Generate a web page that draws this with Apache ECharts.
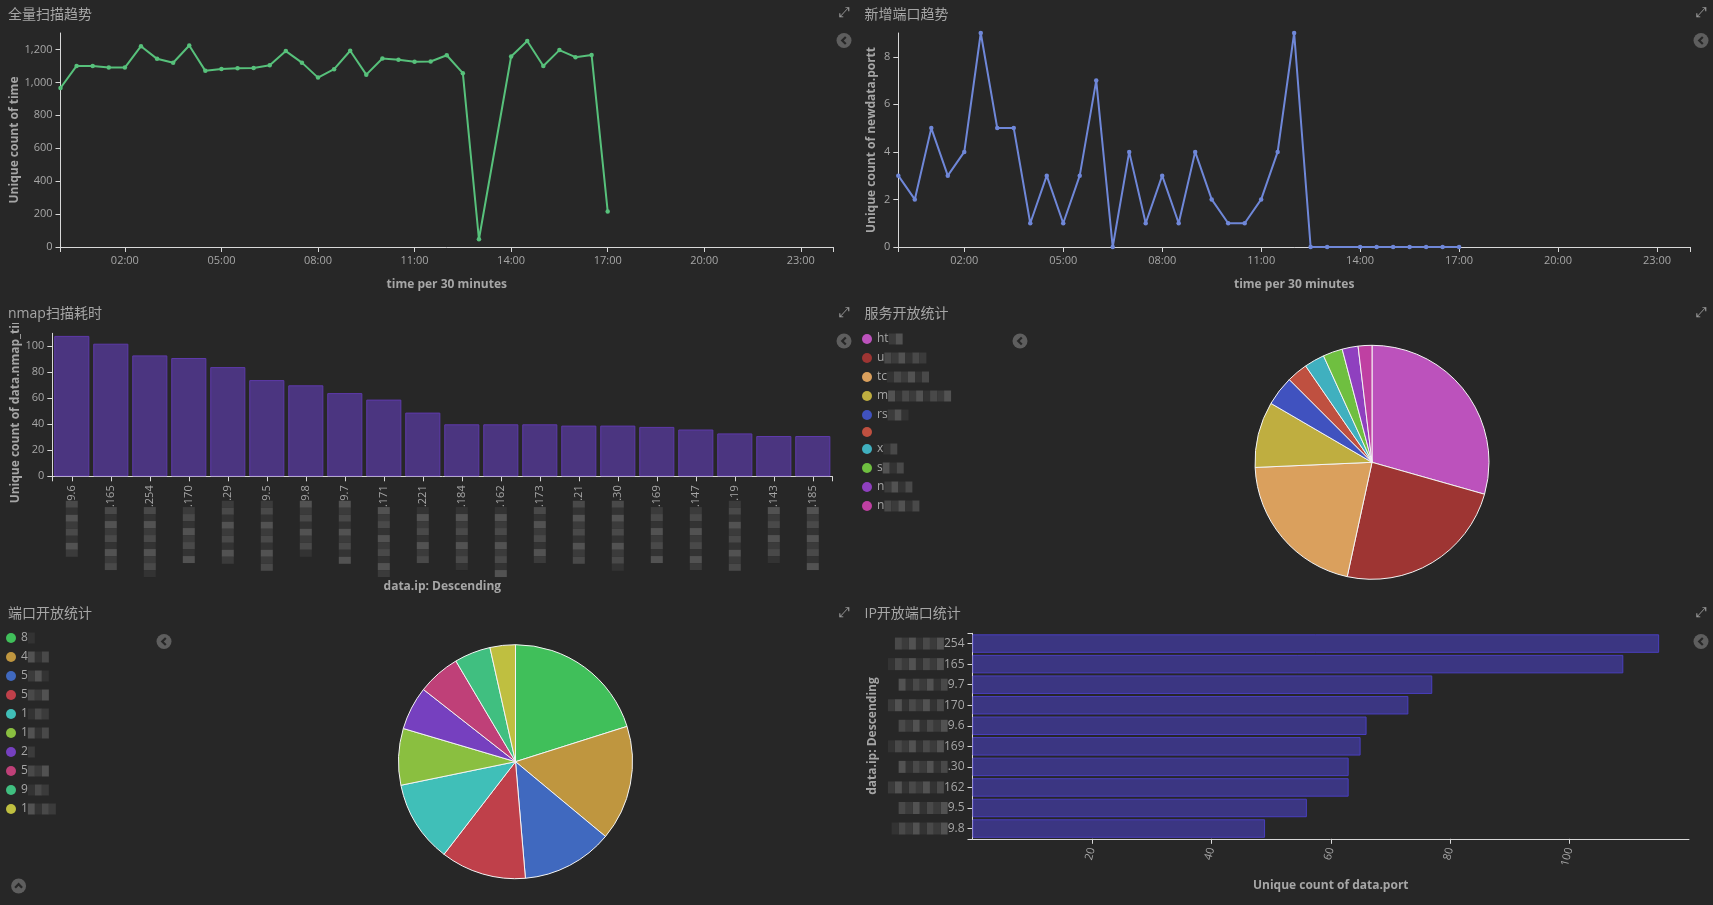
<!DOCTYPE html>
<html><head><meta charset="utf-8">
<script src="https://cdn.jsdelivr.net/npm/echarts@6/dist/echarts.min.js"></script>
<style>html,body{margin:0;padding:0;background:#272727;overflow:hidden}#c{width:1713px;height:905px;}</style>
</head><body><div id="c"></div>
<script>
// ---------- data ----------
const trendTimes = ['00:00','00:30','01:00','01:30','02:00','02:30','03:00','03:30','04:00','04:30','05:00','05:30','06:00','06:30','07:00','07:30','08:00','08:30','09:00','09:30','10:00','10:30','11:00','11:30','12:00','12:30','13:00','14:00','14:30','15:00','15:30','16:00','16:30','17:00'];
const scanCounts = [966,1100,1100,1090,1090,1220,1143,1119,1224,1070,1082,1086,1088,1104,1190,1120,1029,1080,1192,1047,1145,1137,1125,1127,1165,1056,47,1157,1251,1100,1196,1153,1167,216];
const newPortCounts = [3,2,5,3,4,9,5,5,1,3,1,3,7,0,4,1,3,1,4,2,1,1,2,4,9,0,0,0,0,0,0,0,0,0];
const hourTickLabels = ['02:00','05:00','08:00','11:00','14:00','17:00','20:00','23:00'];

const nmapIps = ['9.6','.165','.254','.170','.29','9.5','9.8','9.7','.171','.221','.184','.162','.173','.21','.30','.169','.147','.19','.143','.185'];
const nmapTimes = [108,102,93,91,84,74,70,64,59,49,40,40,40,39,39,38,36,33,31,31];

const serviceLegend = ['ht','u','tc','m','rs','','x','s','n','n'];
const serviceCounts = [294,240,209,91,41,29,28,27,22,19];

const portLegend = ['8','4','5','5','1','1','2','5','9','1'];
const portCounts = [201,159,126,118,113,78,60,59,50,35];

const ipPortIps = ['254','165','9.7','170','9.6','169','.30','162','9.5','9.8'];
const ipPortCounts = [115,109,77,73,66,65,63,63,56,49];

// ---------- styles ----------
const serviceColors = ['#bc52bc','#9e3533','#daa05d','#bfae40','#4052bf','#bf5040','#40b0bf','#6fbf40','#8f40bf','#bf40a2'];
const portColors = ['#40bf5a','#bf963f','#4069bf','#bf404a','#40bfb8','#8abf40','#7640bf','#bf4078','#40bf80','#bfbf40'];
const serviceMosaicLen = [2,6,6,9,3,0,2,3,4,5];
const portMosaicLen = [1,3,3,3,3,3,1,3,3,4];

const BG = '#272727';
const TXT = '#a6a6a6';
const AXIS = '#d8d8d8';
const FONT = '"Open Sans", "Noto Sans CJK SC", sans-serif';

const toHour = t => { const [h, m] = t.split(':').map(Number); return h + m / 60; };
const pad = n => (n < 10 ? '0' : '') + n;
const blockKeys = ['a','b','c','d'];
const mosaic = (n, seed) => { let s = ''; for (let i = 0; i < n; i++) s += '{' + blockKeys[(i * 3 + seed) % 4] + '|\u00a0}'; return s; };
const mosaicRich = (w, h) => ({
  a: {backgroundColor: '#3b3b3b', width: w, height: h, lineHeight: h},
  b: {backgroundColor: '#494949', width: w, height: h, lineHeight: h},
  c: {backgroundColor: '#333333', width: w, height: h, lineHeight: h},
  d: {backgroundColor: '#525252', width: w, height: h, lineHeight: h}
});

const chart = echarts.init(document.getElementById('c'), null, {renderer: 'canvas'});

const axisCommon = {
  axisLine: {show: true, lineStyle: {color: AXIS, width: 1}},
  axisTick: {show: true, length: 5, lineStyle: {color: AXIS}},
  splitLine: {show: false},
  axisLabel: {color: TXT, fontSize: 11, fontFamily: FONT},
  nameTextStyle: {color: TXT, fontSize: 12, fontWeight: 'bold', fontFamily: FONT}
};
const ax = o => echarts.util.merge(echarts.util.clone(axisCommon), o, true);

const hourLabelVals = hourTickLabels.map(toHour);
const hourTickVals = [0].concat(hourLabelVals, [24]);
const timeX = gi => ax({
  type: 'value', gridIndex: gi, min: 0, max: 24,
  name: 'time per 30 minutes', nameLocation: 'middle', nameGap: 32,
  axisLabel: {customValues: hourLabelVals, formatter: v => pad(Math.round(v)) + ':00', margin: 8},
  axisTick: {customValues: hourTickVals}
});

const titles = [
  {text: '全量扫描趋势', left: 3, top: 3},
  {text: '新增端口趋势', left: 859.5, top: 3},
  {text: 'nmap扫描耗时', left: 3, top: 302.5},
  {text: '服务开放统计', left: 859.5, top: 302.5},
  {text: '端口开放统计', left: 3, top: 602},
  {text: 'IP开放端口统计', left: 859.5, top: 602}
].map(t => Object.assign(t, {z: 10, textStyle: {color: TXT, fontSize: 14, fontWeight: 'normal', fontFamily: FONT}}));

const chevron = (x, y, dir) => ({
  type: 'group', x: x, y: y,
  children: [
    {type: 'circle', shape: {cx: 0, cy: 0, r: 7.5}, style: {fill: '#5e5e5e'}},
    {type: 'polyline', shape: {points: dir === 'up' ? [[-3.5,1.8],[0,-1.8],[3.5,1.8]] : [[1.8,-3.5],[-1.8,0],[1.8,3.5]]}, style: {stroke: BG, lineWidth: 2.2, fill: null}}
  ]
});
const expand = (x, y) => ({type: 'text', x: x, y: y, style: {text: '\u2922', fill: '#9a9a9a', font: '14px "DejaVu Sans"', align: 'center', verticalAlign: 'middle'}});

const legendText = {color: TXT, fontSize: 12, lineHeight: 14, fontFamily: FONT, rich: mosaicRich(7, 11)};

const option = {
  backgroundColor: BG,
  animation: false,
  title: titles,
  textStyle: {fontFamily: FONT},
  grid: [
    {left: 60.5, top: 33, width: 772.5, height: 214},
    {left: 898.3, top: 33, width: 791.7, height: 214},
    {left: 52.3, top: 333.3, width: 780, height: 143},
    {left: 972.5, top: 633.3, width: 716.5, height: 205.5}
  ],
  xAxis: [
    timeX(0),
    timeX(1),
    ax({type: 'category', gridIndex: 2, data: nmapIps,
        name: 'data.ip: Descending', nameLocation: 'middle', nameGap: 98,
        axisTick: {alignWithLabel: true},
        axisLabel: {rotate: 90, interval: 0, margin: 9, rich: mosaicRich(7, 12),
          formatter: (v, i) => mosaic(8 + (i % 3), i) + v}}),
    ax({type: 'value', gridIndex: 2, min: 0, max: 1, interval: 1, position: 'bottom',
        axisLine: {show: false}, axisLabel: {show: false}}),
    ax({type: 'value', gridIndex: 3, min: 0, max: 120, interval: 20,
        name: 'Unique count of data.port', nameLocation: 'middle', nameGap: 41,
        axisLabel: {rotate: 75, showMinLabel: false, showMaxLabel: false, margin: 9}})
  ],
  yAxis: [
    ax({type: 'value', gridIndex: 0, min: 0, max: 1300, interval: 200,
        name: 'Unique count of time', nameLocation: 'middle', nameGap: 40,
        axisLabel: {showMaxLabel: false, formatter: v => v.toLocaleString('en-US')}}),
    ax({type: 'value', gridIndex: 1, min: 0, max: 9, interval: 2,
        name: 'Unique count of newdata.portt', nameLocation: 'middle', nameGap: 21,
        axisLabel: {showMaxLabel: false}}),
    ax({type: 'value', gridIndex: 2, min: 0, max: 110, interval: 20,
        name: 'Unique count of data.nmap_time', nameLocation: 'middle', nameGap: 31,
        axisLabel: {showMaxLabel: false}}),
    ax({type: 'category', gridIndex: 3, data: ipPortIps, inverse: true, position: 'left',
        name: 'data.ip: Descending', nameLocation: 'middle', nameGap: 94,
        axisTick: {alignWithLabel: true},
        axisLabel: {interval: 0, margin: 8, fontSize: 12, rich: mosaicRich(7, 12),
          formatter: (v, i) => mosaic(7 + (i % 2), i + 1) + v}}),
    ax({type: 'value', gridIndex: 3, min: 0, max: 1, interval: 1, position: 'left',
        axisLine: {show: false}, axisLabel: {show: false}})
  ],
  legend: [
    {orient: 'vertical', left: 857, top: 327, itemWidth: 10, itemHeight: 10, itemGap: 5, icon: 'circle',
     itemStyle: {borderWidth: 0},
     data: serviceLegend.map((n, i) => n + '#s' + i),
     formatter: name => { const i = +name.split('#s')[1]; return serviceLegend[i] + mosaic(serviceMosaicLen[i], i); },
     textStyle: legendText},
    {orient: 'vertical', left: 1, top: 626, itemWidth: 10, itemHeight: 10, itemGap: 5, icon: 'circle',
     itemStyle: {borderWidth: 0},
     data: portLegend.map((n, i) => n + '#p' + i),
     formatter: name => { const i = +name.split('#p')[1]; return portLegend[i] + mosaic(portMosaicLen[i], i + 2); },
     textStyle: legendText}
  ],
  series: [
    {type: 'line', xAxisIndex: 0, yAxisIndex: 0, data: trendTimes.map((t, i) => [toHour(t), scanCounts[i]]),
     symbol: 'circle', symbolSize: 4.5, lineStyle: {color: '#57c17b', width: 2}, itemStyle: {color: '#57c17b'}},
    {type: 'line', xAxisIndex: 1, yAxisIndex: 1, data: trendTimes.map((t, i) => [toHour(t), newPortCounts[i]]),
     symbol: 'circle', symbolSize: 4.5, lineStyle: {color: '#6f87d8', width: 2}, itemStyle: {color: '#6f87d8'}},
    {type: 'bar', xAxisIndex: 2, yAxisIndex: 2, data: nmapTimes, barCategoryGap: '10%',
     itemStyle: {color: '#4b3580', borderColor: '#5e3aaa', borderWidth: 1}},
    {type: 'pie', center: [1372, 462.3], radius: 117, startAngle: 90, label: {show: false}, labelLine: {show: false},
     data: serviceCounts.map((v, i) => ({name: serviceLegend[i] + '#s' + i, value: v, itemStyle: {color: serviceColors[i]}})),
     itemStyle: {borderColor: '#f4f4f4', borderWidth: 1}},
    {type: 'pie', center: [515.5, 761.7], radius: 117, startAngle: 90, label: {show: false}, labelLine: {show: false},
     data: portCounts.map((v, i) => ({name: portLegend[i] + '#p' + i, value: v, itemStyle: {color: portColors[i]}})),
     itemStyle: {borderColor: '#f4f4f4', borderWidth: 1}},
    {type: 'bar', xAxisIndex: 4, yAxisIndex: 3, data: ipPortCounts, barCategoryGap: '10%',
     itemStyle: {color: '#3b3682', borderColor: '#4a3fbf', borderWidth: 1}}
  ],
  graphic: [
    // panel clip: the nmap y-axis title is cut off at the top of its plot panel
    {type: 'rect', z: 5, shape: {x: 0, y: 290, width: 40, height: 33}, style: {fill: BG}},
    expand(844, 13), expand(1701, 13), expand(844, 313), expand(1701, 313), expand(844, 613), expand(1701, 613),
    chevron(844, 40.5, 'left'), chevron(1701, 40.5, 'left'), chevron(844, 341, 'left'), chevron(1020, 341, 'left'),
    chevron(164, 641.5, 'left'), chevron(1701, 641.5, 'left'), chevron(18.6, 886, 'up')
  ]
};
chart.setOption(option);
</script></body></html>
